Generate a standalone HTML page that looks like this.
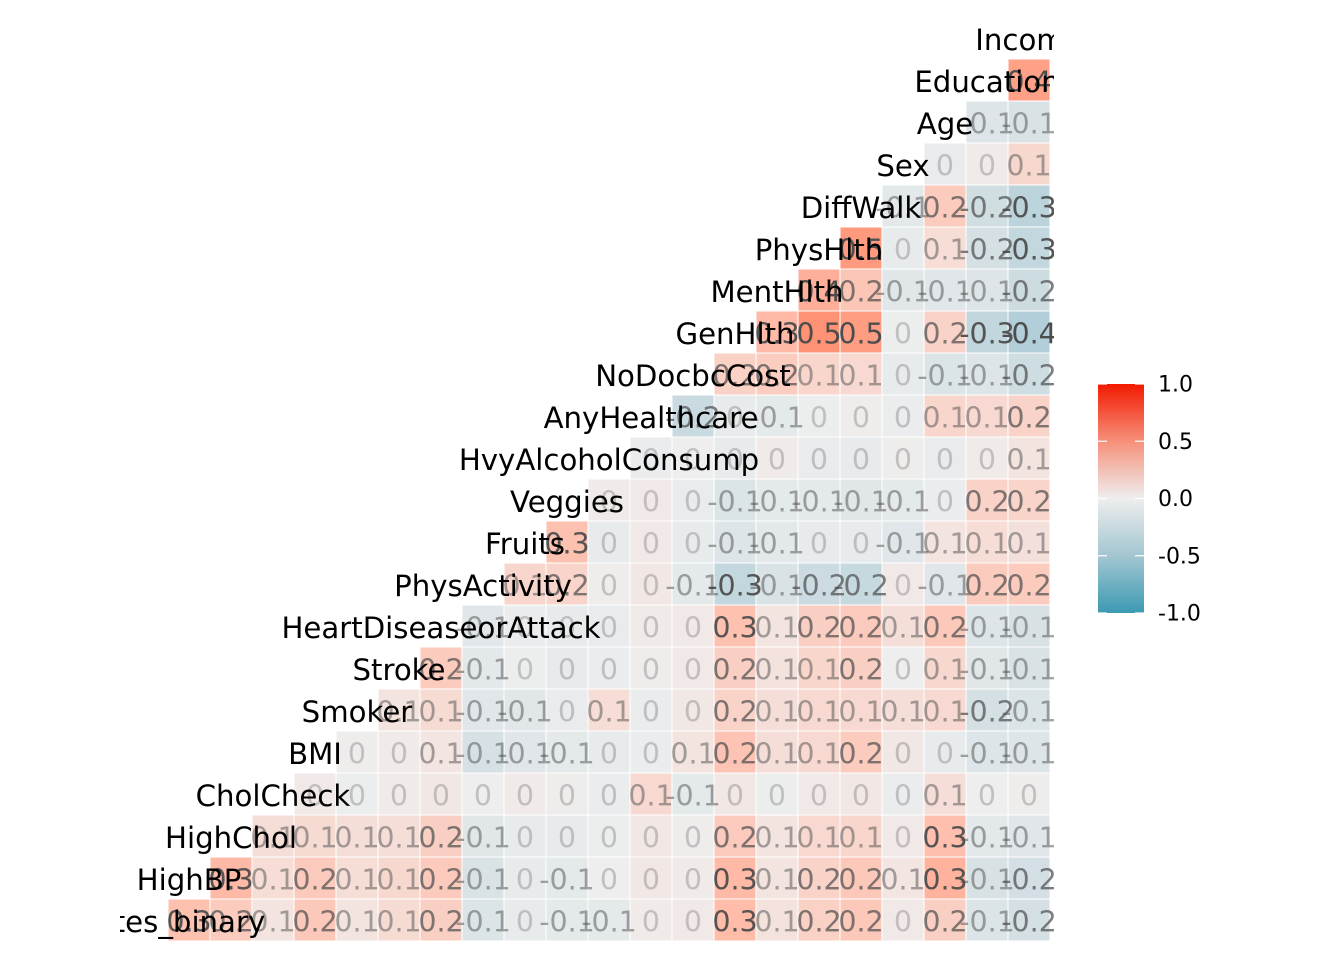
<!DOCTYPE html>
<html><head><meta charset="utf-8"><style>
html,body{margin:0;padding:0;background:#fff;}
svg{display:block;font-family:"DejaVu Sans","Liberation Sans",sans-serif;}
</style></head><body>
<svg id="chart" width="1344" height="960" viewBox="0 0 1344 960" xmlns="http://www.w3.org/2000/svg">
<defs>
<clipPath id="panel"><rect x="120" y="0" width="934" height="960"/></clipPath>
<linearGradient id="lg" x1="0" y1="0" x2="0" y2="1">
<stop offset="0" stop-color="#F21A00"/><stop offset="0.25" stop-color="#F6907A"/><stop offset="0.5" stop-color="#EEEEEE"/><stop offset="0.75" stop-color="#A3C6D1"/><stop offset="1" stop-color="#3B9AB2"/>
</linearGradient>
</defs>
<g id="panel-g" clip-path="url(#panel)"></g>
<g id="legend"></g>
</svg>
<script>
const variables = ["Diabetes_binary","HighBP","HighChol","CholCheck","BMI","Smoker","Stroke","HeartDiseaseorAttack","PhysActivity","Fruits","Veggies","HvyAlcoholConsump","AnyHealthcare","NoDocbcCost","GenHlth","MentHlth","PhysHlth","DiffWalk","Sex","Age","Education","Income"];
// upper-triangle correlations: row i holds corr(var i, var j) for j = i+1..21
const corrRows = [
 [0.26,0.20,0.06,0.22,0.06,0.11,0.18,-0.12,-0.04,-0.06,-0.06,0.02,0.03,0.29,0.07,0.17,0.22,0.03,0.18,-0.12,-0.16],
 [0.30,0.10,0.21,0.10,0.13,0.21,-0.13,-0.04,-0.06,-0.00,0.04,0.02,0.30,0.06,0.16,0.22,0.05,0.34,-0.14,-0.17],
 [0.09,0.11,0.09,0.09,0.18,-0.08,-0.04,-0.04,-0.01,0.04,0.01,0.21,0.06,0.12,0.14,0.03,0.27,-0.07,-0.09],
 [0.03,-0.01,0.02,0.04,0.00,0.02,0.01,-0.02,0.12,-0.06,0.04,-0.01,0.03,0.04,-0.02,0.09,0.00,0.01],
 [0.01,0.02,0.05,-0.15,-0.09,-0.06,-0.04,-0.02,0.06,0.24,0.09,0.12,0.20,0.04,-0.04,-0.10,-0.10],
 [0.06,0.11,-0.09,-0.08,-0.03,0.10,-0.02,0.04,0.16,0.09,0.12,0.12,0.09,0.12,-0.16,-0.12],
 [0.20,-0.07,-0.01,-0.04,-0.02,0.01,0.03,0.18,0.07,0.14,0.18,0.00,0.13,-0.08,-0.13],
 [-0.09,-0.02,-0.04,-0.03,0.02,0.03,0.26,0.06,0.18,0.21,0.09,0.22,-0.10,-0.14],
 [0.14,0.15,0.01,0.04,-0.06,-0.27,-0.13,-0.22,-0.25,0.03,-0.09,0.20,0.20],
 [0.26,-0.04,0.03,-0.04,-0.10,-0.07,-0.04,-0.04,-0.09,0.06,0.10,0.08],
 [0.02,0.03,-0.03,-0.12,-0.06,-0.06,-0.08,-0.06,-0.02,0.16,0.15],
 [-0.02,0.00,-0.04,0.02,-0.03,-0.04,0.01,-0.03,0.02,0.06],
 [-0.23,-0.04,-0.06,-0.01,0.01,-0.02,0.14,0.12,0.16],
 [0.17,0.19,0.14,0.12,-0.04,-0.12,-0.10,-0.20],
 [0.30,0.52,0.46,-0.01,0.16,-0.28,-0.37],
 [0.36,0.23,-0.08,-0.09,-0.10,-0.21],
 [0.48,-0.04,0.10,-0.16,-0.27],
 [-0.07,0.20,-0.19,-0.32],
 [-0.03,0.02,0.13],
 [-0.10,-0.13],
 [0.44]
];
const legendTicks = [1.0,0.5,0.0,-0.5,-1.0];
const legendTickLabels = ["1.0","0.5","0.0","-0.5","-1.0"];

const NS="http://www.w3.org/2000/svg";
const CELL=42;
const colX = j => 147 + CELL*j;
const rowY = i => 922 - CELL*i;
// Lab interpolation
function s2l(c){c/=255;return c<=0.04045?c/12.92:Math.pow((c+0.055)/1.055,2.4);}
function l2s(c){c=c<=0.0031308?12.92*c:1.055*Math.pow(c,1/2.4)-0.055;return Math.max(0,Math.min(255,Math.round(c*255)));}
function toLab(rgb){const [r,g,b]=rgb.map(s2l);let X=(0.4124*r+0.3576*g+0.1805*b)/0.95047,Y=0.2126*r+0.7152*g+0.0722*b,Z=(0.0193*r+0.1192*g+0.9505*b)/1.08883;
 const f=t=>t>0.008856?Math.cbrt(t):7.787*t+16/116;const fx=f(X),fy=f(Y),fz=f(Z);return [116*fy-16,500*(fx-fy),200*(fy-fz)];}
function fromLab(L){const fy=(L[0]+16)/116,fx=fy+L[1]/500,fz=fy-L[2]/200;const fi=t=>t*t*t>0.008856?t*t*t:(t-16/116)/7.787;
 const X=fi(fx)*0.95047,Y=fi(fy),Z=fi(fz)*1.08883;
 const r=3.2406*X-1.5372*Y-0.4986*Z,g=-0.9689*X+1.8758*Y+0.0415*Z,b=0.0557*X-0.2040*Y+1.0570*Z;return [l2s(r),l2s(g),l2s(b)];}
const lowL=toLab([59,154,178]), midL=toLab([238,238,238]), highL=toLab([242,26,0]);
function fillColor(v){
  const t=Math.min(1,Math.abs(v)); const end=v>=0?highL:lowL;
  const c=fromLab(midL.map((m,k)=>m+(end[k]-m)*t));
  return `rgb(${c[0]},${c[1]},${c[2]})`;
}
function fmt(v){ let r=Math.round(v*10)/10; if(r===0) return "0"; return r.toFixed(1); }
function mk(tag,attrs,parent){const e=document.createElementNS(NS,tag);for(const k in attrs)e.setAttribute(k,attrs[k]);parent.appendChild(e);return e;}

const panel=document.getElementById('panel-g');
corrRows.forEach((row,i)=>{
  row.forEach((v,k)=>{
    const j=i+1+k;
    const r=mk('rect',{x:colX(j)-CELL/2,y:rowY(i)-2-CELL/2,width:CELL,height:CELL,fill:fillColor(v),stroke:'#ffffff','stroke-width':1},panel);
    
    
  });
});
corrRows.forEach((row,i)=>{
  row.forEach((v,k)=>{
    const j=i+1+k;
    const lab=fmt(v);
    const a=Math.min(1,0.28+Math.abs(parseFloat(lab))*2.2);
    const t=mk('text',{x:colX(j),y:rowY(i),'text-anchor':'middle','dominant-baseline':'central','font-size':'28.5','fill':'#4d4d4d','fill-opacity':a.toFixed(2)},panel);
    t.textContent=lab;
    
    
  });
});
variables.forEach((name,i)=>{
  const t=mk('text',{x:colX(i),y:rowY(i),'text-anchor':'middle','dominant-baseline':'central','font-size':'29.2','fill':'#000'},panel);
  t.textContent=name;
  
  
});

// legend
const lg=document.getElementById('legend');
const barTop=384, barBot=613, barX=1098, barW=46;
const legY = v => barTop + (1-v)/2*(barBot-barTop);
const bar=mk('rect',{x:barX,y:barTop,width:barW,height:barBot-barTop,fill:'url(#lg)'},lg);


legendTicks.forEach((v,k)=>{
  const y=legY(v);
  mk('line',{x1:barX,x2:barX+9,y1:y,y2:y,stroke:'#fff','stroke-width':1.2},lg);
  mk('line',{x1:barX+barW-9,x2:barX+barW,y1:y,y2:y,stroke:'#fff','stroke-width':1.2},lg);
  const t=mk('text',{x:1158,y:y+1,'dominant-baseline':'central','font-size':'22','fill':'#000'},lg);
  t.textContent=legendTickLabels[k];
  
  
});
</script>
</body></html>
